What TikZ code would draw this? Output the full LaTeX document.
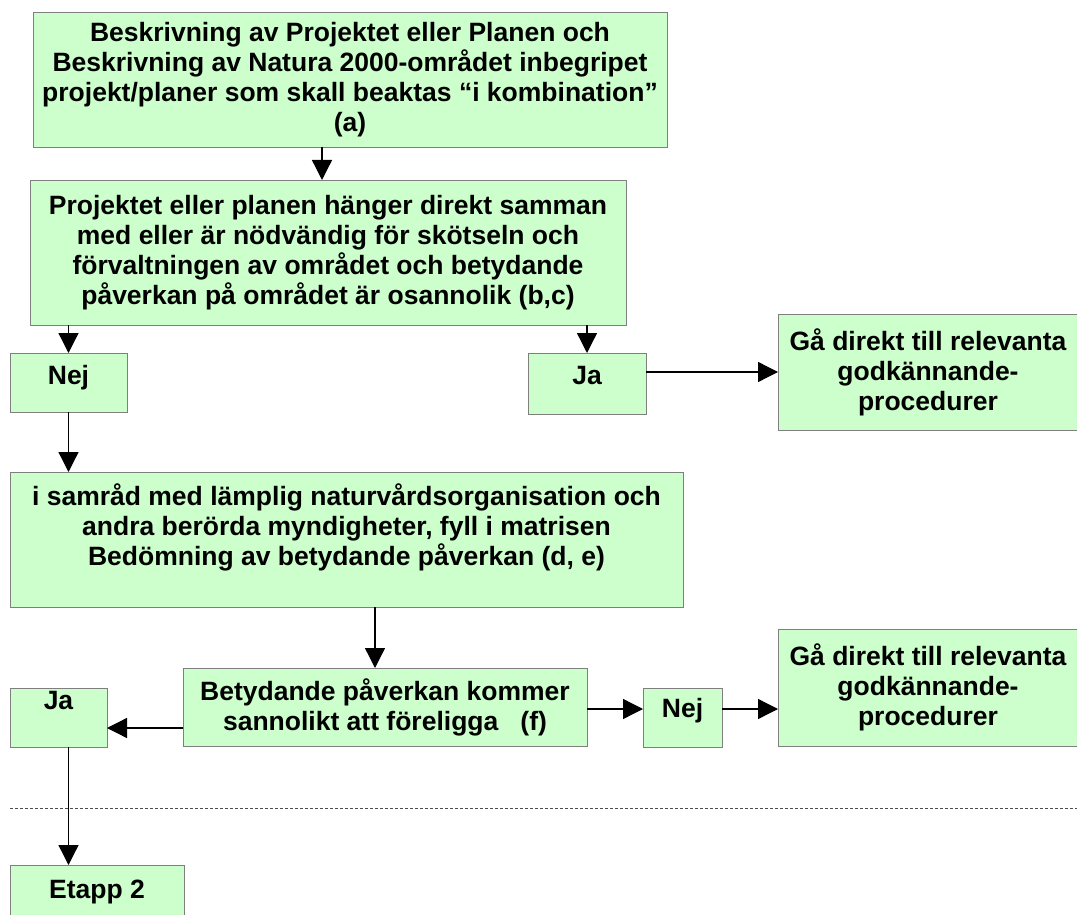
\documentclass[tikz,border=0pt]{standalone}
\usepackage{fontspec}
\setmainfont{Liberation Sans}
\usetikzlibrary{arrows.meta}
\definecolor{PaleGreen}{HTML}{CCFFCC}
\definecolor{Edge}{HTML}{7F7F7F}
\tikzset{
  box/.style={draw=Edge,line width=0.8pt,fill=PaleGreen,align=center,anchor=north west,
              inner sep=0pt,outer sep=0pt,font=\bfseries\fontsize{26.5}{30}\selectfont},
  flow/.style={-{Triangle[length=20pt,width=20pt]},line width=1.3pt,draw=black},
  cutline/.style={dash pattern=on 3pt off 2pt,line width=0.8pt,draw=black!70}
}
\begin{document}
\begin{tikzpicture}[x=1pt,y=-1pt]
  \useasboundingbox (0,0) rectangle (1077,915);
  \node[box,minimum width=634pt,minimum height=135pt] (descr) at (33,12) {Beskrivning av Projektet eller Planen och\\Beskrivning av Natura 2000-området inbegripet\\projekt/planer som skall beaktas “i kombination”\\(a)};
  \node[box,minimum width=596pt,minimum height=145pt] (direct) at (30,180) {Projektet eller planen hänger direkt samman\\med eller är nödvändig för skötseln och\\förvaltningen av området och betydande\\påverkan på området är osannolik (b,c)};
  \node[box,minimum width=117pt,minimum height=59pt,text height=31pt,text depth=28pt] (nej1) at (10,353) {Nej};
  \node[box,minimum width=118pt,minimum height=61pt,text height=31pt,text depth=30pt] (ja1) at (528,353) {Ja};
  \node[box,minimum width=300pt,minimum height=116pt] (godk1) at (778,314) {Gå direkt till relevanta\\godkännande-\\procedurer};
  \node[box,minimum width=673pt,minimum height=135pt] (assess) at (10,472) {i samråd med lämplig naturvårdsorganisation och\\andra berörda myndigheter, fyll i matrisen\\Bedömning av betydande påverkan (d, e)\\\mbox{}};
  \node[box,minimum width=404pt,minimum height=78pt] (likely) at (183,668) {Betydande påverkan kommer\\sannolikt att föreligga\ \ \ (f)};
  \node[box,minimum width=97pt,minimum height=59pt,text height=21pt,text depth=38pt] (ja2) at (10,688) {Ja};
  \node[box,minimum width=79pt,minimum height=59pt,text height=29pt,text depth=30pt] (nej2) at (643,688) {Nej};
  \node[box,minimum width=300pt,minimum height=117pt] (godk2) at (778,629) {Gå direkt till relevanta\\godkännande-\\procedurer};
  \node[box,minimum width=174pt,minimum height=51pt,text height=33pt,text depth=18pt] (etapp) at (10,865) {Etapp 2};

  \draw[flow] ([xshift=-6pt]direct.north |- descr.south) -- ([xshift=-6pt]direct.north);
  \draw[flow] (nej1.north |- direct.south) -- (nej1.north);
  \draw[flow] (ja1.north |- direct.south) -- (ja1.north);
  \draw[flow] (ja1.east |- godk1.west) -- (godk1.west);
  \draw[flow] (nej1.south) -- (nej1.south |- assess.north);
  \draw[flow] ([xshift=-10pt]likely.north |- assess.south) -- ([xshift=-10pt]likely.north);
  \draw[flow] ([yshift=-21pt]likely.west) -- ([yshift=-21pt]likely.west -| ja2.east);
  \draw[flow] ([yshift=-2pt]likely.east) -- ([yshift=-2pt]likely.east -| nej2.west);
  \draw[flow] ([yshift=-2pt]likely.east -| nej2.east) -- ([yshift=-2pt]likely.east -| godk2.west);
  \draw[flow] (ja2.south -| nej1.south) -- (etapp.north -| nej1.south);
  \draw[cutline] (10,808) -- (1077,808);
\end{tikzpicture}
\end{document}
